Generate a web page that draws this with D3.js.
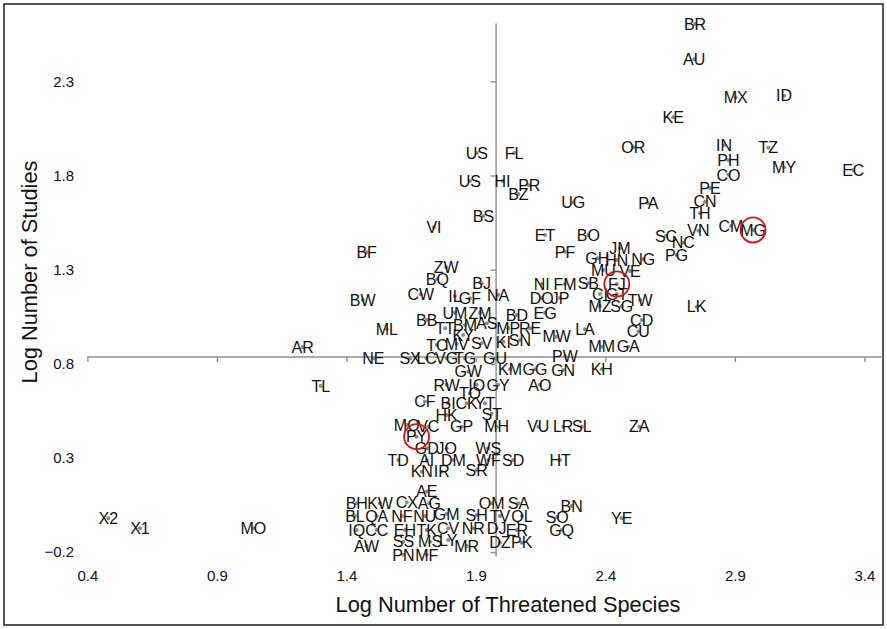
<!DOCTYPE html>
<html>
<head>
<meta charset="utf-8">
<script src="https://cdn.jsdelivr.net/npm/d3@7"></script>
<style>
  body { margin: 0; background: #fff; }
  svg { display: block; font-family: "Liberation Sans", Arial, sans-serif; }
</style>
</head>
<body>
<div id="chart"></div>
<script>
// country codes, log10(threatened species), log10(studies)
const codes = [
  "BR","AU","MX","ID","KE","OR","IN","TZ","PH","MY","EC","CO","PE","CN","TH","VN","CM","MG","SC","NC","PG","PA",
  "UG","ET","BO","PF","JM","GH","HN","NG","MU","VE","FJ","NI","FM","SB","DO","JP","CI","GT","TW","MZ","SG","LK",
  "CD","CU","LA","MW","EG","BD","US","FL","US","HI","PR","BZ","BS","VI","BF","ZW","BQ","BJ","NA","CW","IL","GF",
  "BW","ML","AR","NE","SX","LC","VG","TG","GU","TL","UM","ZM","BB","TT","BM","AS","MP","RE","KY","TC","MV","SV",
  "KI","SN","MM","GA","PW","KM","GG","GN","KH","GW","RW","IO","GY","AO","TO","CF","BI","CK","YT","HK","ST","MO",
  "VC","GP","MH","VU","LR","SL","ZA","PY","GD","JO","WS","TD","AI","DM","WF","SD","HT","KN","IR","SR","AE","BH",
  "KW","CX","AG","OM","SA","BN","BL","QA","NF","NU","GM","SH","TV","QL","SO","YE","X2","X1","MO","IQ","CC","EH",
  "TK","CV","NR","DJ","ER","GQ","AW","SS","MS","LY","MR","DZ","PK","PN","MF"
];
const logThreatened = [
  2.746,2.743,2.903,3.090,2.662,2.508,2.858,3.029,2.875,3.090,3.357,2.875,2.804,2.785,2.765,2.759,2.885,2.970,2.634,2.701,2.675,2.566,
  2.276,2.167,2.334,2.244,2.456,2.369,2.444,2.546,2.392,2.495,2.444,2.154,2.244,2.334,2.154,2.225,2.379,2.444,2.534,2.379,2.463,2.752,
  2.540,2.527,2.321,2.212,2.167,2.058,1.904,2.047,1.877,2.003,2.106,2.064,1.929,1.738,1.478,1.785,1.751,1.922,1.986,1.687,1.819,1.877,
  1.463,1.556,1.231,1.504,1.646,1.710,1.787,1.858,1.974,1.301,1.819,1.916,1.710,1.781,1.858,1.942,2.025,2.109,1.851,1.749,1.826,1.922,
  2.006,2.070,2.386,2.488,2.244,2.032,2.128,2.237,2.386,1.871,1.787,1.903,1.986,2.147,1.877,1.703,1.793,1.864,1.935,1.787,1.961,1.633,
  1.716,1.845,1.980,2.141,2.237,2.309,2.531,1.671,1.710,1.787,1.948,1.600,1.710,1.813,1.948,2.044,2.225,1.691,1.768,1.903,1.710,1.440,
  1.530,1.633,1.720,1.961,2.064,2.270,1.433,1.517,1.614,1.703,1.787,1.903,1.993,2.078,2.214,2.463,0.481,0.603,1.041,1.440,1.517,1.626,
  1.710,1.793,1.890,1.980,2.058,2.231,1.478,1.620,1.723,1.793,1.864,1.993,2.077,1.620,1.710
];
const logStudies = [
  2.605,2.417,2.215,2.224,2.109,1.950,1.961,1.948,1.881,1.844,1.829,1.804,1.734,1.661,1.599,1.507,1.532,1.511,1.479,1.443,1.378,1.652,
  1.656,1.484,1.484,1.395,1.414,1.360,1.351,1.355,1.298,1.293,1.224,1.224,1.224,1.228,1.150,1.150,1.171,1.171,1.139,1.107,1.107,1.103,
  1.033,0.971,0.983,0.944,1.071,1.059,1.920,1.920,1.771,1.771,1.748,1.702,1.585,1.525,1.392,1.313,1.250,1.228,1.166,1.169,1.160,1.148,
  1.139,0.985,0.888,0.829,0.829,0.829,0.829,0.829,0.829,0.682,1.071,1.071,1.033,0.989,1.006,1.015,0.989,0.989,0.953,0.900,0.905,0.909,
  0.917,0.926,0.891,0.891,0.838,0.771,0.771,0.767,0.771,0.758,0.688,0.688,0.688,0.688,0.643,0.599,0.590,0.590,0.590,0.528,0.534,0.475,
  0.466,0.466,0.466,0.466,0.466,0.466,0.466,0.413,0.351,0.351,0.351,0.289,0.289,0.289,0.289,0.289,0.289,0.227,0.227,0.236,0.121,0.059,
  0.059,0.064,0.059,0.059,0.059,0.045,-0.008,-0.008,-0.008,-0.008,0.002,-0.003,-0.008,-0.008,-0.014,-0.020,-0.020,-0.074,-0.074,-0.083,-0.083,-0.083,
  -0.083,-0.074,-0.074,-0.074,-0.083,-0.083,-0.168,-0.145,-0.145,-0.136,-0.168,-0.150,-0.150,-0.215,-0.215
];
const highlighted = ["FJ", "MG", "PY"];
const xTicks = [0.4, 0.9, 1.4, 1.9, 2.4, 2.9, 3.4];
const yTicks = [-0.2, 0.3, 0.8, 1.3, 1.8, 2.3];
const xTitle = "Log Number of Threatened Species";
const yTitle = "Log Number of Studies";
// where the axes cross
const xCross = 1.976, yCross = 0.836;

const width = 887, height = 629;
const data = codes.map((c, i) => ({ code: c, x: logThreatened[i], y: logStudies[i] }));

const x = d3.scaleLinear().domain([0.4, 3.5]).range([87.4, 890.3]);
const y = d3.scaleLinear().domain([-0.221, 2.61]).range([556, 23]);

const svg = d3.select("#chart").append("svg")
  .attr("width", width)
  .attr("height", height);

// outer chart frame
svg.append("rect")
  .attr("x", 4).attr("y", 4)
  .attr("width", 879).attr("height", 621)
  .attr("fill", "none")
  .attr("stroke", "#2a2a2a")
  .attr("stroke-width", 1.6);

const axisColor = "#8f8f8f";

// horizontal axis through yCross, ticks only
svg.append("g")
  .attr("transform", `translate(0,${y(yCross)})`)
  .call(d3.axisBottom(x).tickValues(xTicks).tickSize(5).tickFormat("").tickSizeOuter(0))
  .select(".domain").attr("d", `M${x(0.4)},0H883`);

// vertical axis through xCross
svg.append("g")
  .attr("transform", `translate(${x(xCross)},0)`)
  .call(d3.axisLeft(y).tickValues(yTicks).tickSize(5).tickFormat("").tickSizeOuter(0));

svg.selectAll(".domain, .tick line")
  .attr("stroke", axisColor)
  .attr("stroke-width", 1.4);

// tick labels sit at the low edge of the plot
svg.append("g")
  .attr("transform", "translate(0,576)")
  .call(d3.axisBottom(x).tickValues(xTicks).tickSize(0).tickFormat(d3.format(".1f")))
  .call(g => g.select(".domain").remove())
  .selectAll("text")
  .attr("dy", "0.32em")
  .attr("y", 0)
  .attr("font-size", 15)
  .attr("font-family", "Liberation Sans, Arial, sans-serif")
  .attr("fill", "#111");

svg.append("g")
  .attr("transform", "translate(74,0)")
  .call(d3.axisLeft(y).tickValues(yTicks).tickSize(0).tickFormat(d3.format(".1f")))
  .call(g => g.select(".domain").remove())
  .selectAll("text")
  .attr("x", 0)
  .attr("font-size", 15)
  .attr("font-family", "Liberation Sans, Arial, sans-serif")
  .attr("fill", "#111");

// axis titles
svg.append("text")
  .attr("x", 508).attr("y", 612)
  .attr("text-anchor", "middle")
  .attr("font-size", 21.8)
  .attr("fill", "#111")
  .text(xTitle);

svg.append("text")
  .attr("transform", "translate(37,272) rotate(-90)")
  .attr("text-anchor", "middle")
  .attr("font-size", 21.8)
  .attr("fill", "#111")
  .text(yTitle);

// points
svg.append("g").selectAll("circle")
  .data(data)
  .enter()
  .append("circle")
  .attr("cx", d => x(d.x))
  .attr("cy", d => y(d.y))
  .attr("r", 2)
  .attr("fill", "#8a8a8a");

// labels centred on their points
svg.append("g").selectAll("text")
  .data(data)
  .enter()
  .append("text")
  .attr("x", d => x(d.x))
  .attr("y", d => y(d.y))
  .attr("dy", "0.36em")
  .attr("text-anchor", "middle")
  .attr("font-size", 16)
  .attr("fill", "#111")
  .text(d => d.code);

// red rings round the highlighted countries
svg.append("g").selectAll("circle")
  .data(data.filter(d => highlighted.includes(d.code)))
  .enter()
  .append("circle")
  .attr("cx", d => x(d.x))
  .attr("cy", d => y(d.y))
  .attr("r", 12.5)
  .attr("fill", "none")
  .attr("stroke", "#e01010")
  .attr("stroke-width", 1.8);
</script>
</body>
</html>
